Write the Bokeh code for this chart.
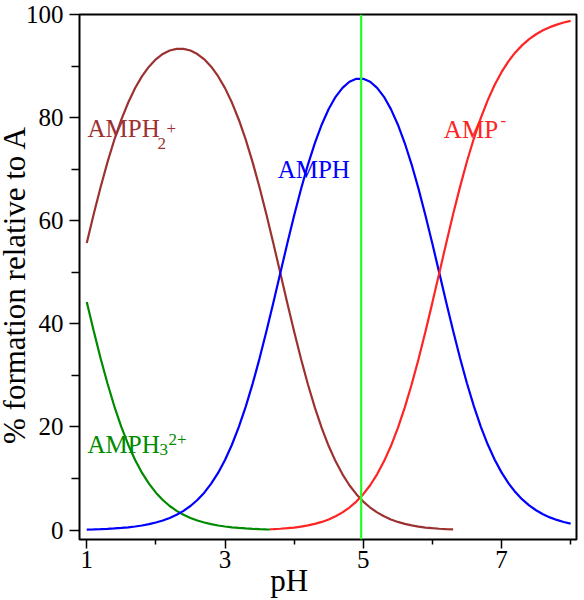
from bokeh.embed import file_html
from bokeh.models import FixedTicker, Label, Range1d, Span, Title
from bokeh.plotting import figure
from bokeh.resources import INLINE

# Percent of total A present as each protonation state, sampled every 0.1 pH unit
ph_grid = [1.0, 1.1, 1.2, 1.3, 1.4, 1.5, 1.6, 1.7, 1.8, 1.9,
           2.0, 2.1, 2.2, 2.3, 2.4, 2.5, 2.6, 2.7, 2.8, 2.9,
           3.0, 3.1, 3.2, 3.3, 3.4, 3.5, 3.6, 3.7, 3.8, 3.9,
           4.0, 4.1, 4.2, 4.3, 4.4, 4.5, 4.6, 4.7, 4.8, 4.9,
           5.0, 5.1, 5.2, 5.3, 5.4, 5.5, 5.6, 5.7, 5.8, 5.9,
           6.0, 6.1, 6.2, 6.3, 6.4, 6.5, 6.6, 6.7, 6.8, 6.9,
           7.0, 7.1, 7.2, 7.3, 7.4, 7.5, 7.6, 7.7, 7.8, 7.9, 8.0]

# AMPH3(2+): pH 1.0 .. 3.6, then the end point at 3.65
amph3 = [44.23, 38.64, 33.33, 28.41, 23.95, 20.00, 16.55, 13.59, 11.08, 8.99,
         7.25, 5.83, 4.66, 3.72, 2.95, 2.34, 1.84, 1.45, 1.13, 0.88,
         0.68, 0.52, 0.40, 0.30, 0.23, 0.17, 0.12, 0.10]
ph_amph3 = ph_grid[:27] + [3.65]

# AMPH2(+): pH 1.0 .. 6.3
amph2 = [55.68, 61.24, 66.50, 71.36, 75.75, 79.61, 82.93, 85.73, 88.04, 89.88,
         91.30, 92.34, 93.01, 93.33, 93.33, 93.01, 92.33, 91.30, 89.88, 88.03,
         85.72, 82.92, 79.59, 75.72, 71.32, 66.45, 61.16, 55.59, 49.84, 44.10,
         38.49, 33.16, 28.22, 23.74, 19.76, 16.29, 13.32, 10.80, 8.69, 6.95,
         5.52, 4.36, 3.42, 2.66, 2.05, 1.57, 1.19, 0.89, 0.66, 0.48,
         0.35, 0.25, 0.18, 0.12]
ph_amph2 = ph_grid[:54]

# AMPH (neutral): pH 1.0 .. 8.0
amph = [0.09, 0.12, 0.17, 0.23, 0.30, 0.40, 0.52, 0.68, 0.88, 1.13,
        1.45, 1.84, 2.34, 2.95, 3.72, 4.66, 5.83, 7.25, 8.99, 11.08,
        13.59, 16.54, 19.99, 23.94, 28.39, 33.30, 38.59, 44.15, 49.84, 55.51,
        61.00, 66.16, 70.89, 75.06, 78.67, 81.66, 84.03, 85.78, 86.95, 87.53,
        87.53, 86.95, 85.78, 84.03, 81.65, 78.67, 75.07, 70.89, 66.17, 61.02,
        55.53, 49.88, 44.19, 38.64, 33.36, 28.46, 24.02, 20.07, 16.63, 13.68,
        11.18, 9.09, 7.36, 5.93, 4.77, 3.83, 3.07, 2.45, 1.96, 1.56, 1.24]
ph_amph = ph_grid

# AMP(-): start point at 3.65, then pH 3.7 .. 8.0
amp = [0.15, 0.18, 0.25, 0.35, 0.48, 0.66, 0.89, 1.19, 1.57, 2.05, 2.66,
       3.42, 4.36, 5.52, 6.95, 8.69, 10.80, 13.32, 16.29, 19.76, 23.74,
       28.22, 33.17, 38.50, 44.11, 49.88, 55.63, 61.24, 66.56, 71.48, 75.94,
       79.90, 83.35, 86.31, 88.81, 90.91, 92.64, 94.06, 95.23, 96.17, 96.93,
       97.55, 98.04, 98.44, 98.76]
ph_amp = [3.65] + ph_grid[27:]

isoelectric_ph = 4.97

x_major = [1, 3, 5, 7]
x_minor = [2, 4, 6, 8]
y_major = [0, 20, 40, 60, 80, 100]
y_minor = [10, 30, 50, 70, 90]

FONT = "Liberation Serif"
BROWN = "#9c3131"
GREEN = "#008a00"
BLUE = "#0000ff"
RED = "#ff2424"
LIME = "#22ff22"
NBSP = "\u00a0"

p = figure(width=584, height=600,
           x_range=Range1d(0.895, 8.085), y_range=Range1d(-1.84, 100),
           output_backend="svg", toolbar_location=None,
           min_border_left=79, min_border_right=8, min_border_top=14, min_border_bottom=60)

p.grid.visible = False
p.outline_line_color = "black"
p.outline_line_width = 2
p.background_fill_color = "white"
p.border_fill_color = "white"

p.xaxis.ticker = FixedTicker(ticks=x_major, minor_ticks=x_minor)
p.yaxis.ticker = FixedTicker(ticks=y_major, minor_ticks=y_minor)
for ax in (p.xaxis, p.yaxis):
    ax.axis_line_color = None
    ax.major_tick_in = 0
    ax.minor_tick_in = 0
    ax.major_tick_line_width = 1.5
    ax.minor_tick_line_width = 1.5
    ax.major_tick_line_color = "black"
    ax.minor_tick_line_color = "black"
    ax.major_label_text_font = FONT
    ax.major_label_text_font_size = "25px"
    ax.major_label_text_color = "black"
    ax.axis_label_text_font = FONT
    ax.axis_label_text_font_size = "31px"
    ax.axis_label_text_font_style = "normal"
    ax.axis_label_text_color = "black"
p.xaxis.major_tick_out = 9
p.xaxis.minor_tick_out = 5
p.xaxis.major_label_standoff = 2
p.yaxis.major_tick_out = 10
p.yaxis.minor_tick_out = 8
p.yaxis.major_label_standoff = 6

# the x title sits left of the frame centre; trailing no-break spaces shift it
p.xaxis.axis_label = "pH" + NBSP * 10
p.xaxis.axis_label_standoff = -8

# y title as a side title, pulled in close to the tick labels
p.add_layout(Title(text="% formation relative to A" + NBSP * 2, align="center",
                   vertical_align="bottom", standoff=-19,
                   text_font=FONT, text_font_size="31px", text_font_style="normal",
                   text_color="black", text_baseline="bottom"), "left")

p.line(ph_amph3, amph3, line_color=GREEN, line_width=2.2)
p.line(ph_amph2, amph2, line_color=BROWN, line_width=2.2)
p.line(ph_amph, amph, line_color=BLUE, line_width=2.2)
p.line(ph_amp, amp, line_color=RED, line_width=2.2)

p.add_layout(Span(location=isoelectric_ph, dimension="height", line_color=LIME, line_width=2.2))


def text(x, y, s, color, size="25px"):
    p.add_layout(Label(x=x, y=y, text=s, text_font=FONT, text_font_size=size,
                       text_color=color, text_align="left", text_baseline="alphabetic"))


# species names with sub- and superscripts
text(1.010, 77.9, "AMPH", BROWN)
text(2.024, 75.0, "2", BROWN, "17px")
text(2.154, 77.8, "+", BROWN, "17px")

text(1.010, 16.55, "AMPH", GREEN)
text(2.053, 15.6, "3", GREEN, "17px")
text(2.183, 17.5, "2+", GREEN, "17px")

text(3.762, 70.0, "AMPH", BLUE)

text(6.166, 77.7, "AMP", RED)
text(6.986, 79.4, "-", RED, "17px")

open("out.html", "w").write(file_html(p, INLINE))
